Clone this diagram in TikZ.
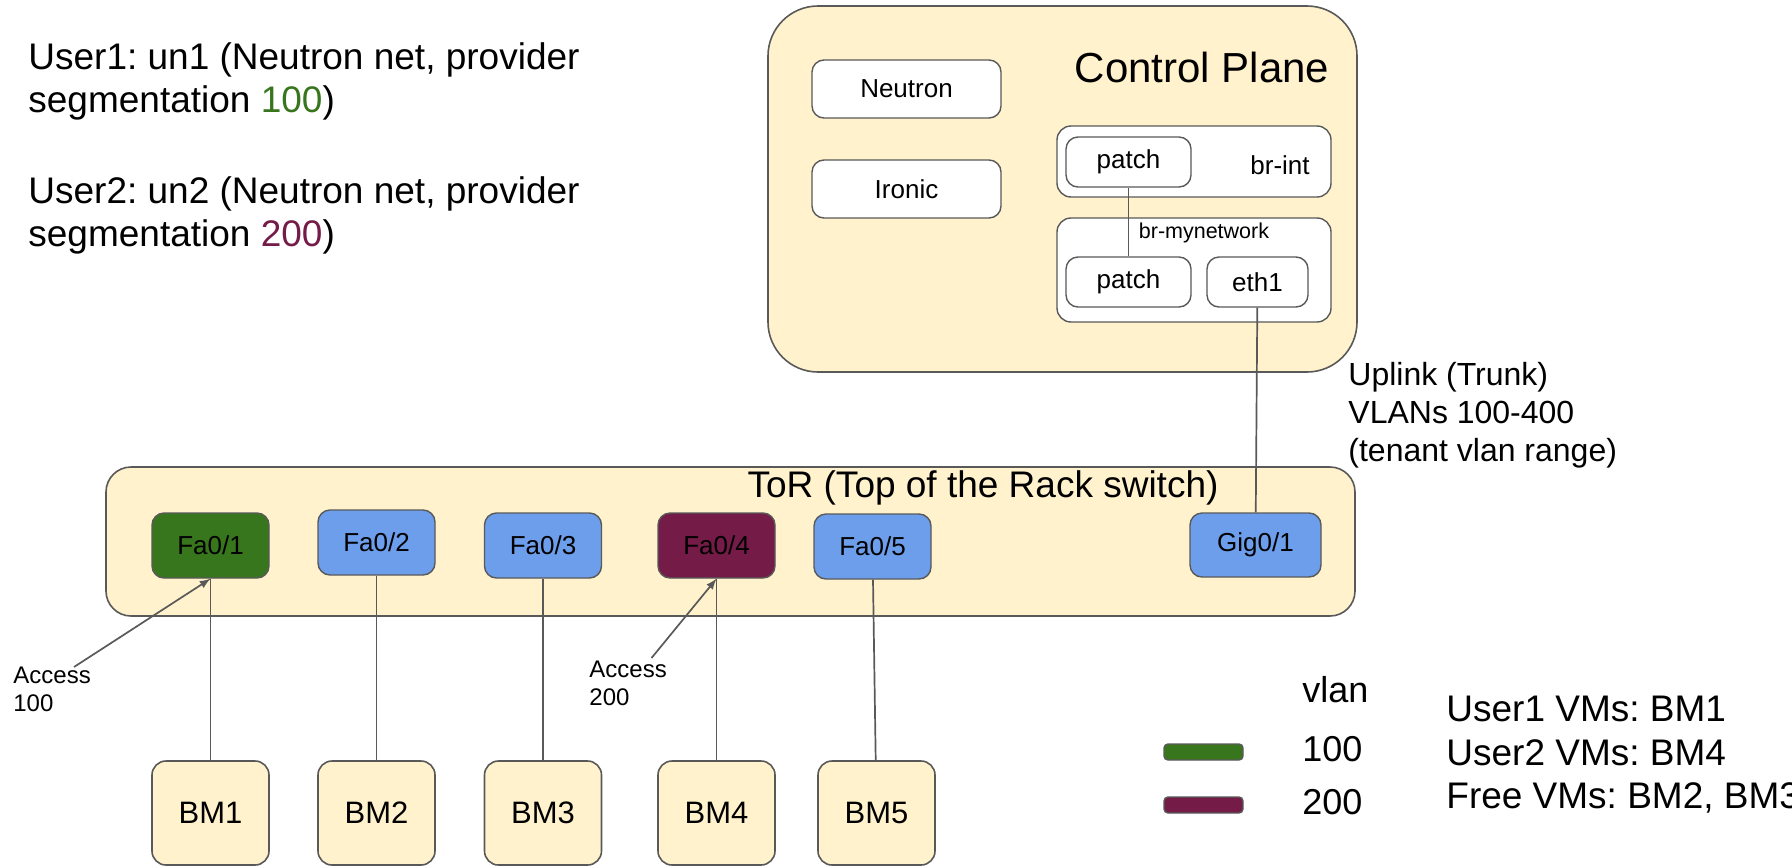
\documentclass[tikz,border=0pt]{standalone}
\usepackage{fontspec}
\setmainfont{Liberation Sans}
\frenchspacing
\definecolor{boxfill}{HTML}{FFF2CC}
\definecolor{edge}{HTML}{595959}
\definecolor{portblue}{HTML}{6D9EEB}
\definecolor{vlangreen}{HTML}{38761D}
\definecolor{vlanred}{HTML}{741B47}
\tikzset{
  panel/.style={draw=edge, fill=boxfill, line width=0.8pt, inner sep=0pt},
  inbox/.style={draw=edge, fill=white, rounded corners=6pt, line width=0.7pt, inner sep=0pt, font=\fontsize{13}{15}\selectfont},
  port/.style={draw=edge, rounded corners=6pt, line width=0.7pt, inner sep=0pt, minimum width=58.5pt, minimum height=32.5pt, font=\fontsize{13}{15}\selectfont},
  bm/.style={panel, rounded corners=7pt, minimum width=58.5pt, minimum height=52pt, font=\fontsize{15.5}{18}\selectfont},
  wire/.style={draw=edge, line width=0.85pt},
  txt/.style={inner sep=0pt, align=left},
}
\begin{document}
\begin{tikzpicture}[>=latex, x=0.5pt, y=-0.5pt]
\useasboundingbox (0,0) rectangle (1792,867);
\clip (0,0) rectangle (1792,867);

% users
\node[txt, anchor=north west, font=\fontsize{18.5}{21.5}\selectfont] (user1) at (28,42)
  {User1: un1 (Neutron net, provider\\segmentation \textcolor{vlangreen}{100})};
\node[txt, anchor=north west, font=\fontsize{18.5}{21.5}\selectfont] (user2) at (28,176)
  {User2: un2 (Neutron net, provider\\segmentation \textcolor{vlanred}{200})};

% control plane
\node[panel, rounded corners=25pt, minimum width=294.5pt, minimum height=183pt] (cp) at (1062.5,189) {};
\node[font=\fontsize{21}{25}\selectfont, inner sep=0pt] (cptitle) at (1202,67) {Control Plane};
\node[inbox, minimum width=94.5pt, minimum height=29pt] (neutron) at (906.5,89) {Neutron};
\node[inbox, minimum width=94.5pt, minimum height=29pt] (ironic) at (906.5,189) {Ironic};
\node[inbox, rounded corners=7pt, minimum width=137pt, minimum height=35.5pt] (brint) at (1194,161.5) {};
\node[font=\fontsize{13}{15}\selectfont, inner sep=0pt] (brintlbl) at (1280,165) {br-int};
\node[inbox, minimum width=62.5pt, minimum height=25pt] (patcha) at (1128.5,162) {patch};
\node[inbox, rounded corners=7pt, minimum width=137pt, minimum height=52pt] (brmy) at (1194,270) {};
\node[font=\fontsize{10.75}{13}\selectfont, inner sep=0pt] (brmylbl) at (1204,233) {br-mynetwork};
\node[inbox, minimum width=62.5pt, minimum height=25pt] (patchb) at (1128.5,282) {patch};
\node[inbox, minimum width=50.5pt, minimum height=25pt] (eth1) at (1257.5,282) {eth1};
\draw[wire] (patcha) -- (patchb);

% uplink
\node[txt, anchor=north west, font=\fontsize{16}{19}\selectfont] (uplink) at (1348,362)
  {Uplink (Trunk)\\VLANs 100-400\\(tenant vlan range)};

% switch
\node[panel, rounded corners=12.5pt, minimum width=624.5pt, minimum height=74.5pt] (tor) at (730.5,541.5) {};
\node[font=\fontsize{18.5}{22}\selectfont, inner sep=0pt] (torlbl) at (983,488) {ToR (Top of the Rack switch)};
\foreach \i/\x/\y/\c in {1/210.5/545.5/vlangreen, 2/376.5/542.5/portblue, 3/543/545.5/portblue,
                         4/716.5/545.5/vlanred, 5/872.5/546.5/portblue}
  \node[port, fill=\c] (fa\i) at (\x,\y) {Fa0/\i};
\node[port, fill=portblue, minimum width=65.5pt, minimum height=32pt] (gig) at (1255.5,545) {Gig0/1};
\draw[wire] (eth1) -- (gig);

% bare metal
\foreach \i/\x in {1/210.5, 2/376.5, 3/543, 4/716.5, 5/876.5} {
  \node[bm] (bm\i) at (\x,813) {BM\i};
  \draw[wire] (bm\i) -- (fa\i);
}

% access ports
\node[txt, anchor=north west, font=\fontsize{12}{14}\selectfont] (acc1) at (13,667) {Access\\100};
\node[txt, anchor=north west, font=\fontsize{12}{14}\selectfont] (acc2) at (589,661) {Access\\200};
\coordinate (acc1tip) at (74,667);
\coordinate (acc2tip) at (651.5,658);
\draw[wire,->] (acc1tip) -- (fa1.south);
\draw[wire,->] (acc2tip) -- (fa4.south);

% legend
\node[inner sep=0pt, anchor=west, font=\fontsize{18}{21}\selectfont] (vlan) at (1302,690) {vlan};
\node[draw=edge, fill=vlangreen, rounded corners=2pt, line width=0.7pt, minimum width=39.5pt, minimum height=8pt, inner sep=0pt] (keya) at (1203.5,752) {};
\node[draw=edge, fill=vlanred, rounded corners=2pt, line width=0.7pt, minimum width=39.5pt, minimum height=8pt, inner sep=0pt] (keyb) at (1203.5,805) {};
\node[inner sep=0pt, anchor=west, font=\fontsize{18}{21}\selectfont] (vlana) at (1302,749) {100};
\node[inner sep=0pt, anchor=west, font=\fontsize{18}{21}\selectfont] (vlanb) at (1302,802) {200};
\node[inner sep=0pt, anchor=west, font=\fontsize{18.5}{22}\selectfont] (vms1) at (1446,709) {User1 VMs: BM1};
\node[inner sep=0pt, anchor=west, font=\fontsize{18.5}{22}\selectfont] (vms2) at (1446,753) {User2 VMs: BM4};
\node[inner sep=0pt, anchor=west, font=\fontsize{18.5}{22}\selectfont] (vms3) at (1446,798) {Free VMs: BM2, BM3};
\end{tikzpicture}
\end{document}
